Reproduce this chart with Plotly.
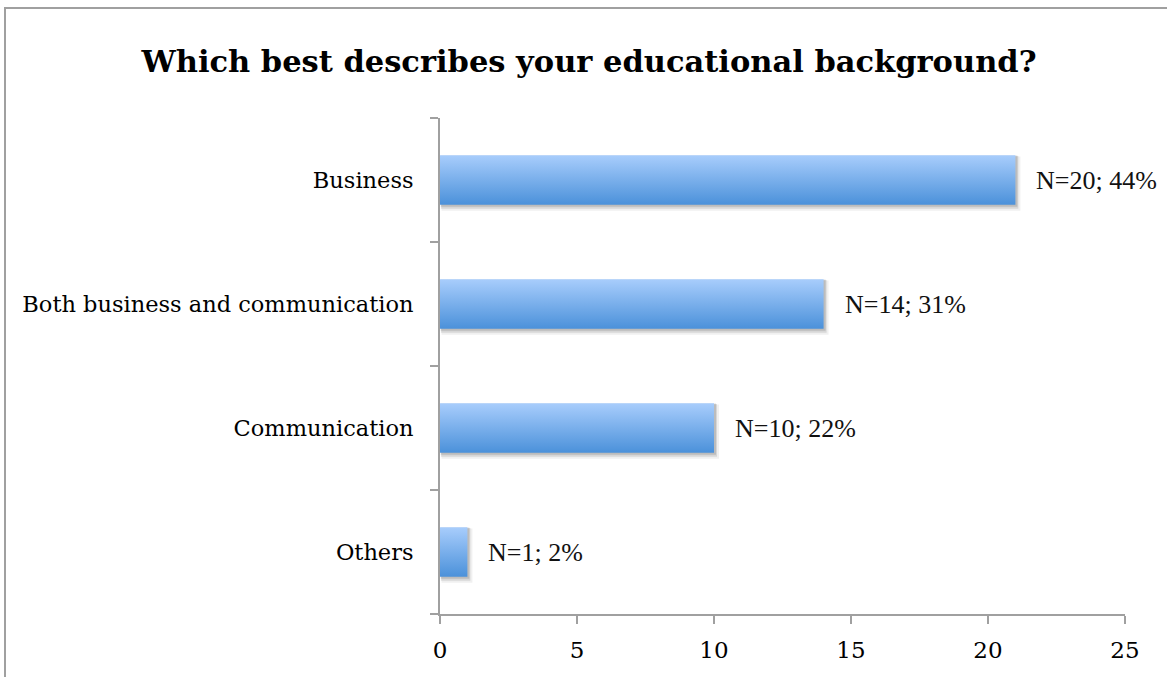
import plotly.graph_objects as go

categories = ["Business", "Both business and communication", "Communication", "Others"]
values = [21, 14, 10, 1]
labels = ["N=20; 44%", "N=14; 31%", "N=10; 22%", "N=1; 2%"]
x_ticks = [0, 5, 10, 15, 20, 25]

W, H = 1167, 677
ml, mr, mt, mb = 440, 42, 118, 63
pw, ph = W - ml - mr, H - mt - mb

n = len(categories)
pos = [n - 1 - i for i in range(n)]  # top to bottom
half = 0.2
xunit = pw / 25.0
yunit = ph / n

fig = go.Figure()

# shadows
for v, p in zip(values, pos):
    for dx, dy, a in [(5, 6, 0.06), (3, 4, 0.10), (2, 2, 0.12)]:
        ox = dx / xunit
        oy = dy / yunit
        fig.add_trace(go.Scatter(
            x=[0 + ox * 0.3, v + ox, v + ox, 0 + ox * 0.3, 0 + ox * 0.3],
            y=[p - half - oy, p - half - oy, p + half - oy * 0.2, p + half - oy * 0.2, p - half - oy],
            fill="toself", mode="lines", line=dict(width=0),
            fillcolor=f"rgba(0,0,0,{a})", hoverinfo="skip", showlegend=False))

# bars with vertical gradient
for v, p in zip(values, pos):
    fig.add_trace(go.Scatter(
        x=[0, v, v, 0, 0],
        y=[p - half, p - half, p + half, p + half, p - half],
        fill="toself", mode="lines", line=dict(width=0),
        fillgradient=dict(type="vertical",
                          colorscale=[[0, "#4B91DA"], [1, "#A8CDFC"]]),
        hoverinfo="skip", showlegend=False))

for v, p, t in zip(values, pos, labels):
    fig.add_annotation(x=v, y=p, text=t, showarrow=False, xanchor="left",
                       xshift=19, font=dict(family="Liberation Serif", size=26, color="#111"))

fig.update_layout(
    width=W, height=H,
    margin=dict(l=ml, r=mr, t=mt, b=mb),
    paper_bgcolor="white", plot_bgcolor="white",
    title=dict(text="<b>Which best describes your educational background?</b>",
               x=589 / W, xanchor="center", xref="container", y=1 - 61 / H, yanchor="middle",
               font=dict(family="DejaVu Serif", size=30.5, color="black")),
    xaxis=dict(range=[0, 25], tickvals=x_ticks, showgrid=False, zeroline=False,
               showline=True, linecolor="#A0A0A0", linewidth=2,
               ticks="outside", ticklen=8, tickcolor="#A0A0A0", tickwidth=2,
               ticklabelstandoff=6,
               tickfont=dict(family="DejaVu Serif", size=23, color="black"),
               fixedrange=True),
    yaxis=dict(range=[-0.5, n - 0.5], tickvals=pos, ticktext=categories,
               showgrid=False, zeroline=False, showline=True, linecolor="#A0A0A0",
               linewidth=2, ticks="", ticklabelstandoff=20,
               tickfont=dict(family="DejaVu Serif", size=22.5, color="black"),
               minor=dict(tickvals=[k - 0.5 for k in range(n + 1)], ticks="outside",
                          ticklen=8, tickcolor="#A0A0A0", tickwidth=2, showgrid=False),
               fixedrange=True),
    shapes=[dict(type="rect", xref="paper", yref="paper",
                 x0=(5 - ml) / pw, x1=2, y0=-1, y1=1 + (mt - 8) / ph,
                 line=dict(color="#A0A0A0", width=2), layer="below")],
)

fig.write_html("out.html")
